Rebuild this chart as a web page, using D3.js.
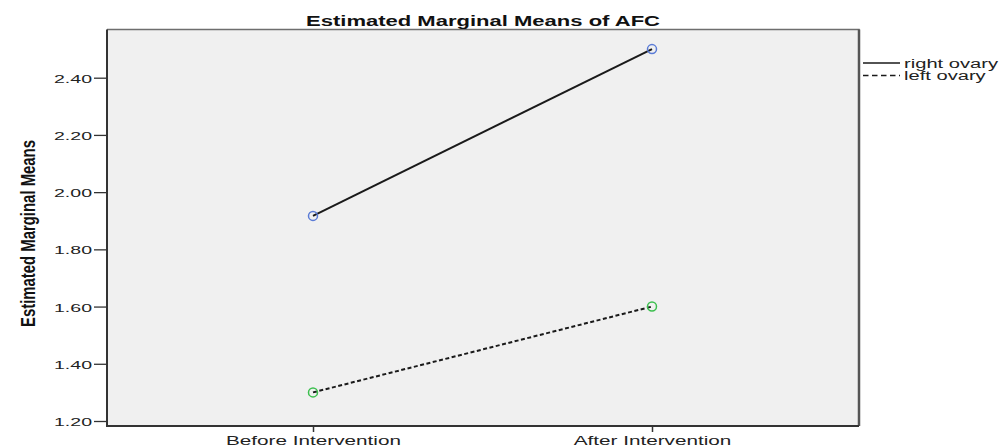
<!DOCTYPE html>
<html><head><meta charset="utf-8">
<script src="https://cdn.jsdelivr.net/npm/d3@7"></script>
<style>body{margin:0;background:#fff}svg{display:block}</style>
</head><body>
<svg id="c" width="1001" height="447"></svg>
<script>
const categories = ["Before Intervention", "After Intervention"];
const seriesNames = ["right ovary", "left ovary"];
const rightOvary = [1.917, 2.50];
const leftOvary = [1.30, 1.60];
const yTicks = [1.20, 1.40, 1.60, 1.80, 2.00, 2.20, 2.40];
const markerColors = ["#5a7bd6", "#3cbf4e"];
const dashes = [null, "4,2.5"];
const legendDashes = [null, "5.5,3.5"];

const FONT = "Arial, 'Liberation Sans', sans-serif";
const svg = d3.select("#c");
const L = 107, R = 859, T = 29.5, B = 426;
const y = d3.scaleLinear().domain([1.20, 2.40]).range([421, 77.7]);
const x = d3.scalePoint().domain(categories).range([313, 652]);

function stretch(sel, targetWidth) {
  const nodes = sel.nodes();
  if (!nodes.length) return;
  const f = targetWidth / nodes[0].getComputedTextLength();
  nodes.forEach(n => {
    const w = n.getComputedTextLength();
    d3.select(n).attr("textLength", w * f).attr("lengthAdjust", "spacingAndGlyphs");
  });
}

svg.append("rect").attr("x", L).attr("y", T).attr("width", R - L).attr("height", B - T).attr("fill", "#f0f0f0");
svg.append("path").attr("d", `M${L},${T}H${R}V${B}`).attr("fill", "none").attr("stroke", "#6e6e6e").attr("stroke-width", 1.5);
svg.append("line").attr("x1", R).attr("x2", R).attr("y1", T).attr("y2", B).attr("stroke", "#555").attr("stroke-width", 2.5);

const yAxis = svg.append("g").attr("transform", `translate(${L},0)`)
  .call(d3.axisLeft(y).tickValues(yTicks).tickFormat(d3.format(".2f")).tickSize(13).tickPadding(2));
yAxis.select(".domain").remove();
yAxis.selectAll("line").attr("stroke", "#333").attr("stroke-width", 1.3);
yAxis.selectAll("text").attr("font-family", FONT).attr("font-size", 11.5).attr("fill", "#222").attr("dy", "0.4em");
stretch(yAxis.selectAll("text"), 38);

const xAxis = svg.append("g").attr("transform", `translate(0,${B})`)
  .call(d3.axisBottom(x).tickSize(6).tickPadding(2));
xAxis.select(".domain").remove();
xAxis.selectAll("line").attr("stroke", "#333").attr("stroke-width", 1.5);
xAxis.selectAll("text").attr("font-family", FONT).attr("font-size", 13.5).attr("fill", "#222").attr("dy", null).attr("y", 18.5);
stretch(xAxis.selectAll("text"), 175);

svg.append("path").attr("d", `M${L},${T}V${B}H${R}`).attr("fill", "none").attr("stroke", "#333").attr("stroke-width", 2);

const series = [rightOvary, leftOvary];
const line = d3.line().x((d, i) => x(categories[i])).y(d => y(d));
series.forEach((s, k) => {
  svg.append("path").attr("d", line(s)).attr("fill", "none").attr("stroke", "#1a1a1a")
    .attr("stroke-width", 2).attr("stroke-dasharray", dashes[k]);
  s.forEach((v, i) => {
    svg.append("circle").attr("cx", x(categories[i])).attr("cy", y(v)).attr("r", 4.5)
      .attr("fill", "none").attr("stroke", markerColors[k]).attr("stroke-width", 1.5);
  });
});

const title = svg.append("text").attr("x", (L + R) / 2).attr("y", 25.5).attr("text-anchor", "middle")
  .attr("font-family", FONT).attr("font-weight", "bold").attr("font-size", 14.5)
  .attr("fill", "#111").text("Estimated Marginal Means of AFC");
stretch(title, 354);

const ylab = svg.append("text").attr("transform", "translate(35,233.5) rotate(-90)").attr("text-anchor", "middle")
  .attr("font-family", FONT).attr("font-weight", "bold").attr("font-size", 20).attr("fill", "#111")
  .text("Estimated Marginal Means");
stretch(ylab, 187);

const leg = svg.append("g");
seriesNames.forEach((n, k) => {
  const ly = 63 + k * 12.5;
  leg.append("line").attr("x1", 863).attr("x2", 900).attr("y1", ly).attr("y2", ly)
    .attr("stroke", "#1a1a1a").attr("stroke-width", 1.6).attr("stroke-dasharray", legendDashes[k]);
  leg.append("text").attr("x", 904).attr("y", ly + 4.5)
    .attr("font-family", FONT).attr("font-size", 12.5).attr("fill", "#222").text(n);
});
stretch(leg.selectAll("text"), 94);
</script>
</body></html>
